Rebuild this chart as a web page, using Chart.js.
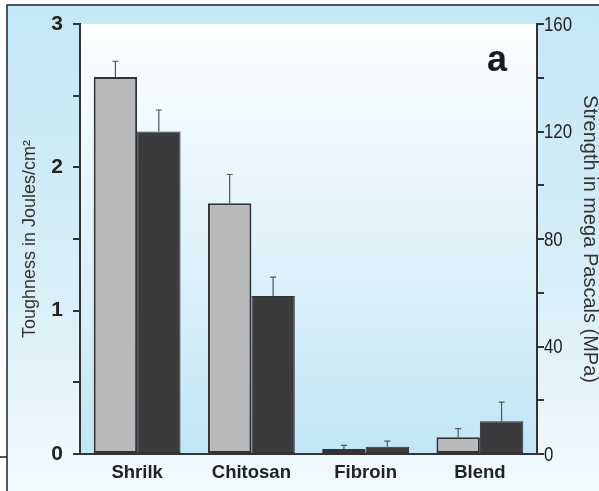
<!DOCTYPE html>
<html>
<head>
<meta charset="utf-8">
<script src="https://cdn.jsdelivr.net/npm/chart.js@4.4.1/dist/chart.umd.min.js"></script>
<style>
  html, body { margin: 0; padding: 0; background: #fff; }
  #wrap { width: 599px; height: 491px; }
</style>
</head>
<body>
<div id="wrap"><canvas id="grafico" width="599" height="491"></canvas></div>
<script>
// datos
const categorias = ['Shrilk', 'Chitosan', 'Fibroin', 'Blend'];
const tenacidad = [2.63, 1.75, 0.035, 0.117];        // Joules/cm2 (eje izquierdo)
const tenacidadErr = [0.11, 0.20, 0.025, 0.06];
const resistencia = [120, 58.8, 2.7, 12.2];          // MPa (eje derecho)
const resistenciaErr = [8, 7, 2.1, 7.1];
const ticksIzq = [0, 1, 2, 3];
const ticksDer = [0, 40, 80, 120, 160];

const fuente = "'Liberation Sans', Arial, sans-serif";

// fondo, marco y letra "a"
const fondo = {
    id: 'fondo',
    beforeDraw(chart) {
        const c = chart.ctx;
        const a = chart.chartArea;
        c.save();
        c.fillStyle = '#ffffff';
        c.fillRect(0, 0, chart.width, chart.height);
        let g = c.createLinearGradient(0, 5, 0, chart.height);
        g.addColorStop(0, '#c4e7f6');
        g.addColorStop(0.55, '#d6eef8');
        g.addColorStop(1, '#f3fafd');
        c.fillStyle = g;
        c.fillRect(7, 5, chart.width - 7, chart.height - 5);
        g = c.createLinearGradient(0, a.top, 0, a.bottom);
        g.addColorStop(0, '#fdfeff');
        g.addColorStop(0.45, '#e4f4fb');
        g.addColorStop(1, '#c2e6f5');
        c.fillStyle = g;
        c.fillRect(a.left, a.top, a.right - a.left, a.bottom - a.top);
        c.strokeStyle = '#222';
        c.lineWidth = 1.5;
        c.beginPath();
        c.moveTo(7, chart.height);
        c.lineTo(7, 5);
        c.lineTo(chart.width, 5);
        c.moveTo(0, 457);
        c.lineTo(7, 457);
        c.stroke();
        c.restore();
    },
    afterDraw(chart) {
        const c = chart.ctx;
        c.save();
        c.fillStyle = '#1a1a1a';
        c.font = 'bold 36px ' + fuente;
        c.textAlign = 'right';
        c.textBaseline = 'alphabetic';
        c.fillText('a', chart.chartArea.right - 30, 71);
        // etiquetas del eje derecho, estrechas
        const s = chart.scales.y2;
        c.font = '21px ' + fuente;
        c.fillStyle = '#222';
        c.textAlign = 'left';
        c.textBaseline = 'middle';
        ticksDer.forEach(v => {
            c.save();
            c.translate(s.left + 7, s.getPixelForValue(v) + 1);
            c.scale(0.8, 1);
            c.fillText(String(v), 0, 0);
            c.restore();
        });
        c.restore();
    }
};

// barras de error (solo hacia arriba)
const barrasError = {
    id: 'barrasError',
    afterDatasetsDraw(chart) {
        const c = chart.ctx;
        c.save();
        c.strokeStyle = '#555';
        c.lineWidth = 1.2;
        chart.data.datasets.forEach((ds, i) => {
            const meta = chart.getDatasetMeta(i);
            const escala = chart.scales[ds.yAxisID];
            meta.data.forEach((barra, j) => {
                const yTop = escala.getPixelForValue(ds.data[j] + ds.errores[j]);
                c.beginPath();
                c.moveTo(barra.x, barra.y);
                c.lineTo(barra.x, yTop);
                c.moveTo(barra.x - 3, yTop);
                c.lineTo(barra.x + 3, yTop);
                c.stroke();
            });
        });
        c.restore();
    }
};

const config = {
    type: 'bar',
    data: {
        labels: categorias,
        datasets: [{
            label: 'Toughness',
            data: tenacidad,
            errores: tenacidadErr,
            yAxisID: 'y',
            backgroundColor: '#b9babc',
            borderColor: '#333',
            borderWidth: 2,
            borderSkipped: false,
            categoryPercentage: 0.76,
            barPercentage: 1
        }, {
            label: 'Strength',
            data: resistencia,
            errores: resistenciaErr,
            yAxisID: 'y2',
            backgroundColor: '#3b3b3d',
            borderColor: '#333',
            borderWidth: 1,
            borderSkipped: false,
            categoryPercentage: 0.76,
            barPercentage: 1
        }]
    },
    options: {
        responsive: false,
        animation: false,
        layout: { padding: { top: 24, left: 0, right: 0, bottom: 0 } },
        plugins: {
            legend: { display: false },
            tooltip: { enabled: false }
        },
        scales: {
            x: {
                grid: { display: false },
                border: { display: true, color: '#333', width: 2 },
                ticks: {
                    color: '#222',
                    font: { family: fuente, size: 18.5, weight: 'bold' },
                    padding: 0
                },
                afterFit(s) { s.height = 37; }
            },
            y: {
                position: 'left',
                min: 0, max: 3,
                ticks: {
                    stepSize: 0.5,
                    color: '#222',
                    font: { family: fuente, size: 21, weight: 'bold' },
                    padding: 10,
                    callback: v => ticksIzq.includes(v) ? String(v) : ''
                },
                grid: { drawOnChartArea: false, drawTicks: true, tickLength: 7, tickColor: '#333', lineWidth: 2 },
                border: { display: true, color: '#333', width: 2 },
                title: {
                    display: true,
                    text: 'Toughness in Joules/cm²',
                    color: '#333',
                    font: { family: fuente, size: 18, lineHeight: 1 },
                    padding: { top: 21, bottom: 0 }
                },
                afterFit(s) { s.width = 80; }
            },
            y2: {
                position: 'right',
                min: 0, max: 160,
                ticks: {
                    stepSize: 20,
                    color: '#222',
                    font: { family: fuente, size: 21 },
                    padding: 1,
                    callback: () => ''
                },
                grid: { drawOnChartArea: false, drawTicks: true, tickLength: 7, tickColor: '#333', lineWidth: 2 },
                border: { display: true, color: '#333', width: 2 },
                title: {
                    display: true,
                    text: 'Strength in mega Pascals (MPa)',
                    color: '#333',
                    font: { family: fuente, size: 20, lineHeight: 1 },
                    padding: { top: -1, bottom: 0 }
                },
                afterFit(s) { s.width = 62; }
            }
        }
    },
    plugins: [fondo, barrasError]
};

new Chart(document.getElementById('grafico'), config);
</script>
</body>
</html>
